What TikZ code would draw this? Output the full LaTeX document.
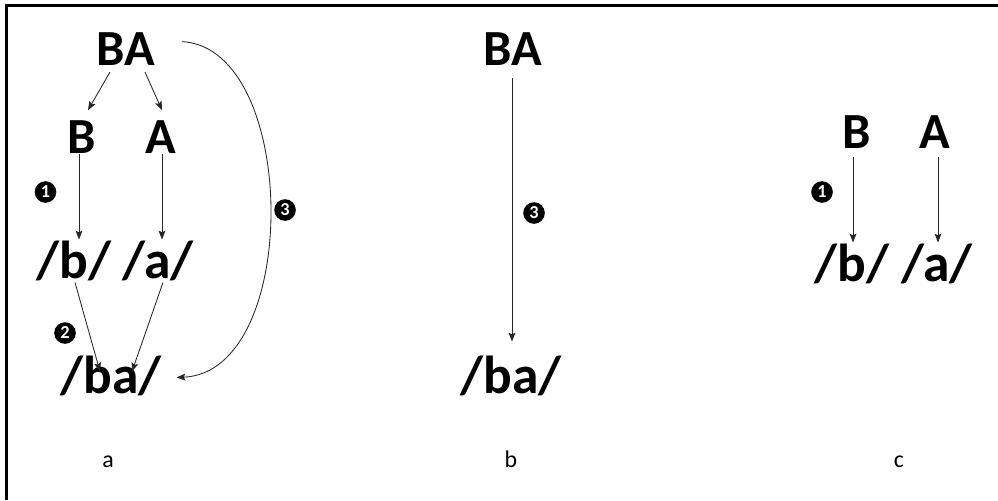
\documentclass[tikz,border=0pt]{standalone}
\usepackage{fontspec}
\setmainfont{Carlito}
\usetikzlibrary{arrows.meta,calc}
\tikzset{
  >={Stealth[length=2.2mm,width=1.7mm,inset=0.4mm]},
  dglyph/.style={inner sep=0pt, outer sep=0pt, anchor=base,
                 font=\fontsize{36}{40}\selectfont\bfseries},
  dphon/.style={dglyph, font=\fontsize{38}{42}\selectfont\bfseries},
  dbadge/.style={circle, fill=black, text=white, inner sep=0pt,
                 minimum size=5.4mm, font=\fontsize{13}{13}\selectfont\bfseries},
  dtag/.style={inner sep=0pt, anchor=base, font=\fontsize{17}{20}\selectfont},
  darr/.style={->, black!85, line width=0.6pt},
  dframe/.style={black, line width=1.6pt},
}
\begin{document}
\begin{tikzpicture}[x=0.025cm,y=-0.025cm]
  \useasboundingbox (0,0) rectangle (998,500);

  % frame
  \draw[dframe] (6.5,500) -- (6.5,5.5) -- (998,5.5);

  % a
  \node[dglyph] (BA) at (126,65) {BA};
  \node[dglyph] (B) at (82,153) {B};
  \node[dglyph] (A) at (161,153) {A};
  \node[dphon] (pb) at (74,278) {/b/};
  \node[dphon] (pa) at (158,278) {/a/};
  \node[dphon] (pba) at (111,393) {/ba/};

  \draw[darr] ($(BA.south)+(-16,7)$) -- ($(B.north)+(6,-10)$);
  \draw[darr] ($(BA.south)+(19,7)$) -- ($(A.north)+(1,-10)$);
  \draw[darr] ($(B.south)+(-3,1)$) -- ($(B.south |- pb.north)+(-3,-1)$);
  \draw[darr] ($(A.south)+(1,1)$) -- ($(A.south |- pa.north)+(1,-1)$);
  \draw[darr] ($(pb.south)+(1,2)$) -- ($(pba.north)+(-11,16)$);
  \draw[darr] ($(pa.south)+(5,2)$) -- ($(pba.north)+(21,16)$);
  \draw[darr] ($(BA.east)+(27,-7)$) .. controls +(117,7) and +(125,-5)
              .. ($(pba.east)+(15,2)$);

  \node[dbadge] (n1a) at (45.5,192) {1};
  \node[dbadge] (n2a) at (65,333) {2};
  \node[dbadge] (n3a) at (285,210) {3};
  \node[dtag] (ta) at (108,467) {a};

  % b
  \node[dglyph] (BAb) at (513,65) {BA};
  \node[dphon] (pbab) at (511,393) {/ba/};
  \draw[darr] ($(BAb.south)+(-1,13)$) -- ($(BAb.south |- pbab.north)+(-1,-14)$);
  \node[dbadge] (n3b) at (534,213) {3};
  \node[dtag] (tb) at (511,467) {b};

  % c
  \node[dglyph] (Bc) at (857,148) {B};
  \node[dglyph] (Ac) at (935,148) {A};
  \node[dphon] (pbc) at (852,281) {/b/};
  \node[dphon] (pac) at (937,281) {/a/};
  \draw[darr] ($(Bc.south)+(-4,9)$) -- ($(Bc.south |- pbc.north)+(-4,-1)$);
  \draw[darr] ($(Ac.south)+(3,9)$) -- ($(Ac.south |- pac.north)+(3,-1)$);
  \node[dbadge] (n1c) at (822,192) {1};
  \node[dtag] (tc) at (899,467) {c};

\end{tikzpicture}
\end{document}
